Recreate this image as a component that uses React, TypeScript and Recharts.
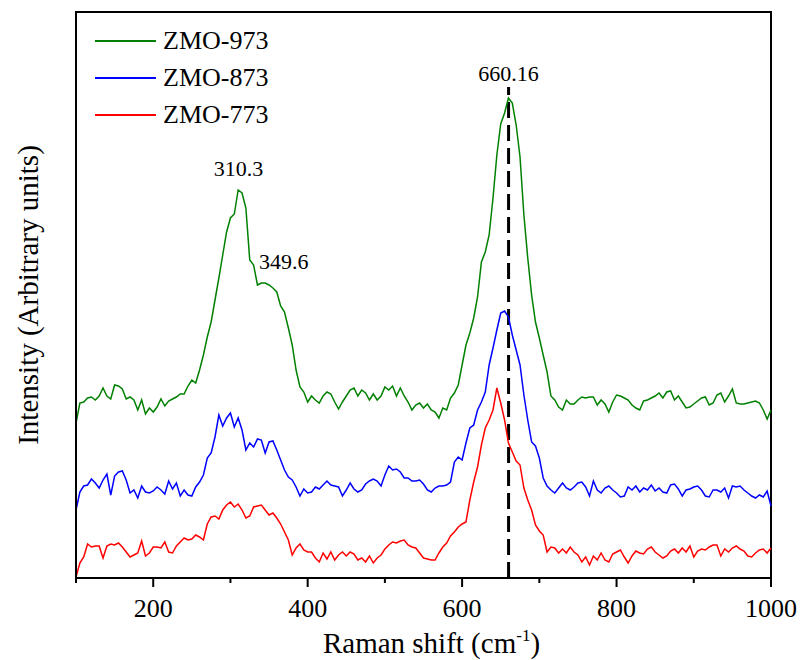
import {
  Legend,
  Line,
  LineChart,
  ReferenceArea,
  ReferenceDot,
  ReferenceLine,
  XAxis,
  YAxis,
} from "recharts";

const SERIF = "'Liberation Serif', 'Times New Roman', Times, serif";

const ramanShift = [
  100, 105, 110, 115, 120, 125, 130, 135, 140, 145,
  150, 155, 160, 165, 170, 175, 180, 185, 190, 195,
  200, 205, 210, 215, 220, 225, 230, 235, 240, 245,
  250, 255, 260, 265, 270, 275, 280, 285, 290, 295,
  300, 305, 310, 315, 320, 325, 330, 335, 340, 345,
  350, 355, 360, 365, 370, 375, 380, 385, 390, 395,
  400, 405, 410, 415, 420, 425, 430, 435, 440, 445,
  450, 455, 460, 465, 470, 475, 480, 485, 490, 495,
  500, 505, 510, 515, 520, 525, 530, 535, 540, 545,
  550, 555, 560, 565, 570, 575, 580, 585, 590, 595,
  600, 605, 610, 615, 620, 625, 630, 635, 640, 645,
  650, 655, 660, 665, 670, 675, 680, 685, 690, 695,
  700, 705, 710, 715, 720, 725, 730, 735, 740, 745,
  750, 755, 760, 765, 770, 775, 780, 785, 790, 795,
  800, 805, 810, 815, 820, 825, 830, 835, 840, 845,
  850, 855, 860, 865, 870, 875, 880, 885, 890, 895,
  900, 905, 910, 915, 920, 925, 930, 935, 940, 945,
  950, 955, 960, 965, 970, 975, 980, 985, 990, 995,
  1000,
];

// intensities, arbitrary units (curves are offset vertically like the original plot)
const zmo973 = [
  155, 175, 176, 180, 181, 178, 182, 190, 182, 179,
  193, 192, 189, 179, 181, 178, 168, 178, 164, 170,
  166, 171, 179, 172, 177, 179, 181, 184, 184, 192,
  198, 195, 208, 223, 241, 256, 278, 300, 323, 346,
  360, 364, 388, 385, 370, 318, 313, 293, 295, 295,
  293, 290, 286, 272, 266, 250, 233, 208, 191, 186,
  176, 182, 178, 175, 182, 186, 184, 176, 169, 176,
  182, 188, 190, 182, 188, 185, 178, 184, 178, 182,
  191, 188, 192, 182, 190, 182, 176, 168, 173, 175,
  170, 174, 168, 166, 160, 170, 168, 180, 185, 193,
  213, 233, 245, 260, 281, 316, 326, 343, 380, 423,
  454, 465, 480, 475, 453, 421, 363, 320, 283, 256,
  240, 223, 206, 182, 178, 171, 168, 178, 174, 174,
  178, 181, 180, 181, 181, 173, 178, 174, 166, 176,
  183, 182, 180, 178, 173, 170, 168, 177, 178, 180,
  182, 185, 180, 186, 187, 178, 182, 176, 170, 171,
  174, 177, 180, 181, 173, 175, 183, 185, 176, 182,
  189, 175, 174, 174, 175, 176, 177, 175, 168, 159,
  168,
];

const zmo873 = [
  68, 86, 92, 93, 99, 95, 90, 98, 104, 83,
  102, 106, 107, 98, 85, 88, 80, 92, 86, 85,
  87, 91, 88, 84, 97, 89, 95, 82, 88, 83,
  82, 91, 96, 103, 120, 125, 141, 163, 152, 160,
  165, 151, 160, 148, 128, 135, 131, 139, 138, 125,
  136, 137, 128, 118, 108, 101, 98, 91, 82, 89,
  85, 86, 91, 89, 93, 97, 93, 92, 91, 82,
  88, 95, 89, 86, 88, 94, 97, 99, 97, 92,
  103, 112, 108, 109, 106, 100, 100, 97, 97, 98,
  94, 88, 86, 90, 92, 92, 93, 96, 116, 121,
  118, 135, 150, 153, 168, 176, 186, 213, 230, 248,
  265, 267, 261, 243, 228, 213, 183, 158, 136, 132,
  120, 100, 92, 88, 85, 90, 95, 90, 88, 91,
  95, 96, 91, 82, 97, 88, 85, 90, 92, 88,
  85, 81, 82, 91, 88, 92, 86, 90, 88, 93,
  87, 90, 86, 85, 93, 94, 89, 82, 88, 89,
  91, 92, 88, 82, 81, 88, 88, 86, 90, 80,
  92, 91, 92, 88, 85, 82, 80, 83, 81, 87,
  72,
];

const zmo773 = [
  1, 15, 21, 34, 31, 32, 32, 20, 32, 34,
  33, 35, 31, 26, 21, 23, 25, 37, 22, 25,
  31, 31, 30, 36, 26, 25, 32, 36, 40, 38,
  39, 43, 41, 38, 54, 61, 62, 59, 68, 73,
  76, 71, 74, 68, 60, 62, 71, 72, 73, 68,
  63, 65, 60, 54, 46, 38, 23, 30, 34, 28,
  26, 26, 20, 16, 25, 19, 26, 18, 23, 26,
  22, 26, 24, 18, 20, 16, 22, 15, 20, 23,
  29, 33, 36, 35, 37, 38, 33, 31, 30, 25,
  20, 19, 18, 18, 25, 31, 35, 42, 46, 51,
  54, 56, 78, 96, 111, 133, 150, 158, 168, 190,
  175, 158, 135, 126, 117, 113, 90, 78, 68, 53,
  47, 43, 26, 31, 30, 25, 29, 25, 31, 26,
  23, 16, 21, 13, 22, 18, 25, 18, 16, 24,
  26, 28, 21, 15, 22, 27, 25, 24, 29, 31,
  26, 23, 20, 22, 27, 29, 25, 30, 26, 32,
  21, 27, 29, 28, 31, 33, 33, 22, 29, 26,
  30, 32, 29, 27, 22, 21, 25, 28, 29, 25,
  30,
];

const seriesNames = ["ZMO-973", "ZMO-873", "ZMO-773"];
const xTicks = [100, 200, 300, 400, 500, 600, 700, 800, 900, 1000];

const rows = ramanShift.map((x, i) => ({
  x,
  zmo973: zmo973[i],
  zmo873: zmo873[i],
  zmo773: zmo773[i],
}));

function RamanTick({ x, y, payload }: any) {
  const major = payload.value % 200 === 0;
  return (
    <g>
      <line x1={x} x2={x} y1={y} y2={y + (major ? 9 : 5)} stroke="#000" strokeWidth={2} />
      {major && (
        <text x={x} y={y + 39} textAnchor="middle" fontSize={26} fontFamily={SERIF} fill="#000">
          {payload.value}
        </text>
      )}
    </g>
  );
}

function XTitle({ viewBox }: any) {
  const { x, y, width } = viewBox;
  return (
    <text x={x + width / 2 + 8} y={y + 75} textAnchor="middle" fontSize={29} fontFamily={SERIF} fill="#000">
      Raman shift (cm
      <tspan dy={-12} fontSize={17}>-1</tspan>
      <tspan dy={12}>)</tspan>
    </text>
  );
}

function YTitle({ viewBox }: any) {
  const { y, height } = viewBox;
  const cx = 38;
  const cy = y + height / 2;
  return (
    <text
      x={cx}
      y={cy}
      transform={`rotate(-90, ${cx}, ${cy})`}
      textAnchor="middle"
      fontSize={29}
      fontFamily={SERIF}
      fill="#000"
    >
      Intensity (Arbitrary units)
    </text>
  );
}

function LegendBox({ payload }: any) {
  const items = [...(payload || [])].sort(
    (a: any, b: any) => seriesNames.indexOf(a.value) - seriesNames.indexOf(b.value)
  );
  return (
    <div>
      {items.map((item: any) => (
        <div key={item.value} style={{ display: "flex", alignItems: "center", height: 37 }}>
          <svg width={61} height={4} style={{ marginRight: 7 }}>
            <line x1={0} x2={61} y1={2} y2={2} stroke={item.color} strokeWidth={2} />
          </svg>
          <span style={{ fontSize: 26, fontFamily: SERIF, color: "#000", lineHeight: 1 }}>{item.value}</span>
        </div>
      ))}
    </div>
  );
}

const peakLabel = { position: "center" as const, fontSize: 22, fill: "#000", fontFamily: SERIF };

export default function App() {
  return (
    <div style={{ position: "absolute", left: 0, top: 0, width: 802, height: 660, background: "#fff" }}>
      <LineChart width={802} height={660} data={rows} margin={{ top: 12, right: 31, bottom: 0, left: 0 }}>
        <XAxis
          dataKey="x"
          type="number"
          domain={[100, 1000]}
          ticks={xTicks}
          interval={0}
          height={82}
          tickSize={0}
          tickMargin={0}
          tickLine={false}
          tick={<RamanTick />}
          axisLine={{ stroke: "#000", strokeWidth: 2 }}
          label={<XTitle />}
        />
        <YAxis
          type="number"
          domain={[0, 566]}
          width={76}
          tick={false}
          tickLine={false}
          axisLine={{ stroke: "#000", strokeWidth: 2 }}
          label={<YTitle />}
        />
        <ReferenceArea x1={100} x2={1000} y1={0} y2={566} fill="none" stroke="#000" strokeWidth={2} />
        <ReferenceLine
          segment={[
            { x: 660.16, y: 0 },
            { x: 660.16, y: 491 },
          ]}
          stroke="#000"
          strokeWidth={3}
          strokeDasharray="16 7"
        />
        <Line dataKey="zmo973" name={seriesNames[0]} stroke="#008000" strokeWidth={1.5} dot={false} isAnimationActive={false} />
        <Line dataKey="zmo873" name={seriesNames[1]} stroke="#0000ff" strokeWidth={1.5} dot={false} isAnimationActive={false} />
        <Line dataKey="zmo773" name={seriesNames[2]} stroke="#ff0000" strokeWidth={1.5} dot={false} isAnimationActive={false} />
        <ReferenceDot x={310.3} y={410} r={0} fill="none" stroke="none" label={{ value: "310.3", ...peakLabel }} />
        <ReferenceDot x={369} y={317} r={0} fill="none" stroke="none" label={{ value: "349.6", ...peakLabel }} />
        <ReferenceDot x={660.16} y={505} r={0} fill="none" stroke="none" label={{ value: "660.16", ...peakLabel }} />
        <Legend
          layout="vertical"
          align="center"
          verticalAlign="middle"
          content={<LegendBox />}
          wrapperStyle={{ left: 95, top: 22, width: 220, height: 115 }}
        />
      </LineChart>
    </div>
  );
}
